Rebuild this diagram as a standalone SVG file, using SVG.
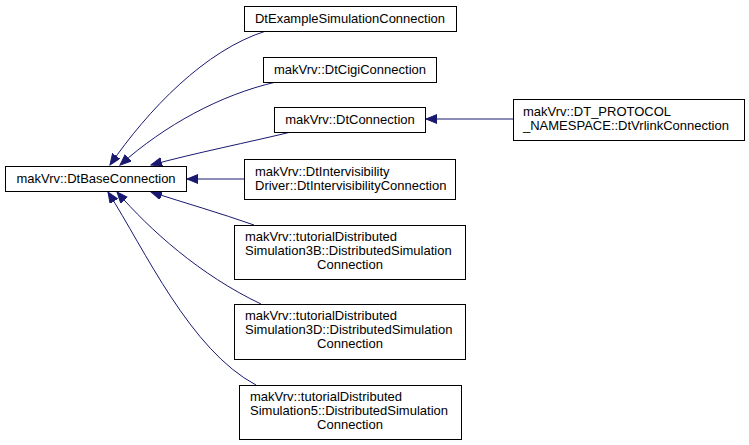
<svg xmlns="http://www.w3.org/2000/svg" width="749" height="445" viewBox="0 0 749 445">
<style>
.box{fill:#fff;stroke:#000;stroke-width:1}
text{font-family:"Liberation Sans",Arial,sans-serif;font-size:13px;fill:#000}
.c{text-anchor:middle}
.e{fill:none;stroke:#191970;stroke-width:1}
</style>
<defs>
<marker id="ah" markerUnits="userSpaceOnUse" markerWidth="12" markerHeight="10" refX="11" refY="4.5" orient="auto">
<path d="M0,0 L11,4.5 L0,9 z" fill="#191970" stroke="#191970" stroke-width="1"/>
</marker>
</defs>
<rect width="749" height="445" fill="#fff"/>
<g id="edges">
<path class="e" d="M266,31 C205,50 148,110 110,165" marker-end="url(#ah)"/>
<path class="e" d="M276,82 C220,95 165,125 120,165" marker-end="url(#ah)"/>
<path class="e" d="M291,132 C250,142 195,153 151,165" marker-end="url(#ah)"/>
<path class="e" d="M244,179 L187,179" marker-end="url(#ah)"/>
<path class="e" d="M254,225 C220,213 185,203 151,192" marker-end="url(#ah)"/>
<path class="e" d="M261,304 C200,275 150,230 117,192" marker-end="url(#ah)"/>
<path class="e" d="M256,385 C190,350 145,250 108,192" marker-end="url(#ah)"/>
<path class="e" d="M513,119 L426,119" marker-end="url(#ah)"/>
</g>
<g id="base">
<rect class="box" x="5.5" y="166.5" width="181" height="25"/>
<text class="c" x="96" y="183">makVrv::DtBaseConnection</text>
</g>
<g id="example">
<rect class="box" x="244.5" y="6.5" width="212" height="25"/>
<text class="c" x="350" y="23">DtExampleSimulationConnection</text>
</g>
<g id="cigi">
<rect class="box" x="263.5" y="57.5" width="173" height="25"/>
<text class="c" x="350" y="74">makVrv::DtCigiConnection</text>
</g>
<g id="dtconn">
<rect class="box" x="274.5" y="107.5" width="151" height="25"/>
<text class="c" x="350" y="124">makVrv::DtConnection</text>
</g>
<g id="vrlink">
<rect class="box" x="513.5" y="99.5" width="231" height="41"/>
<text x="523" y="116">makVrv::DT_PROTOCOL</text>
<text x="523" y="130">_NAMESPACE::DtVrlinkConnection</text>
</g>
<g id="intervis">
<rect class="box" x="244.5" y="159.5" width="211" height="40"/>
<text x="255" y="176">makVrv::DtIntervisibility</text>
<text x="255" y="190">Driver::DtIntervisibilityConnection</text>
</g>
<g id="sim3b">
<rect class="box" x="234.5" y="225.5" width="231" height="54"/>
<text x="245" y="241">makVrv::tutorialDistributed</text>
<text x="245" y="255">Simulation3B::DistributedSimulation</text>
<text class="c" x="350" y="269">Connection</text>
</g>
<g id="sim3d">
<rect class="box" x="234.5" y="304.5" width="231" height="55"/>
<text x="245" y="320">makVrv::tutorialDistributed</text>
<text x="245" y="334">Simulation3D::DistributedSimulation</text>
<text class="c" x="350" y="348">Connection</text>
</g>
<g id="sim5">
<rect class="box" x="239.5" y="385.5" width="222" height="54"/>
<text x="250" y="401">makVrv::tutorialDistributed</text>
<text x="250" y="415">Simulation5::DistributedSimulation</text>
<text class="c" x="350" y="429">Connection</text>
</g>
</svg>
